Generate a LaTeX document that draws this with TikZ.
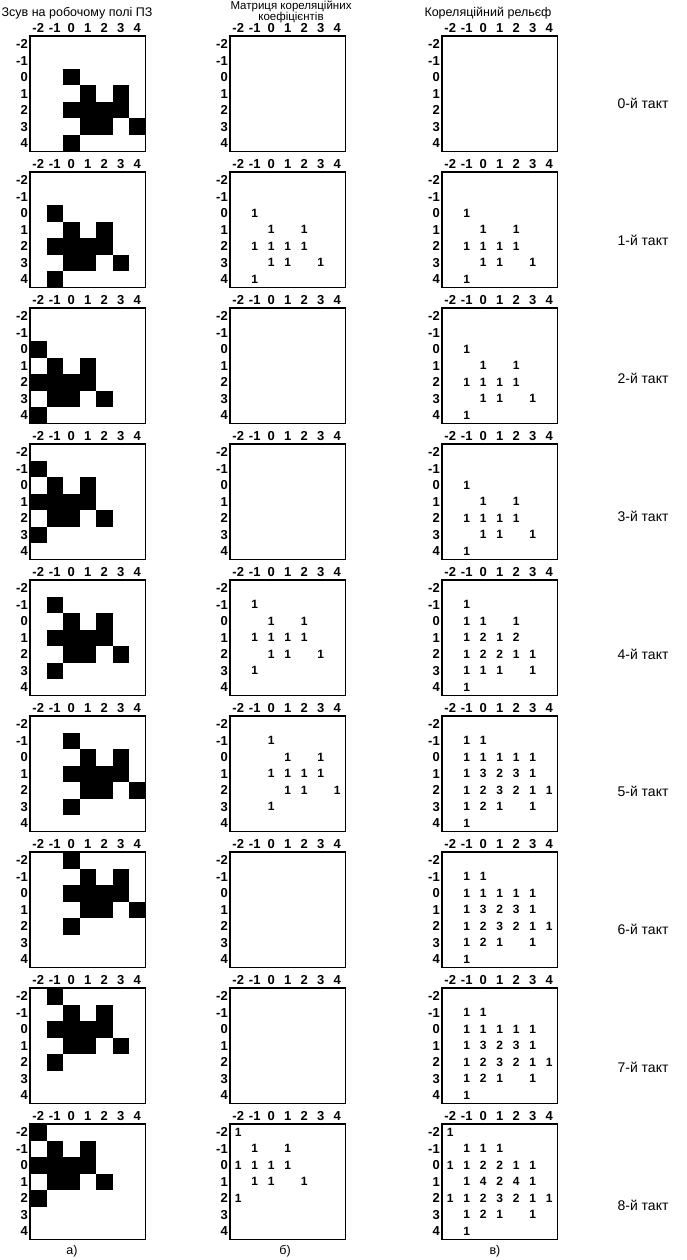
\documentclass[tikz,border=0pt]{standalone}
\usepackage{fontspec}
\setmainfont{Liberation Sans}
\usetikzlibrary{positioning}

% cells of the figure, relative to its corner
\newcommand{\shapecells}{0/0, 1/1, 3/1, 0/2, 1/2, 2/2, 3/2, 1/3, 2/3, 4/3, 0/4}

\begin{document}
\begin{tikzpicture}[
        x=1pt, y=-1pt,
        frame/.style={draw=black, line width=1.2pt},
        cell/.style={fill=black},
        tick/.style={font=\fontsize{13}{13}\selectfont\bfseries, inner sep=0pt},
        val/.style={font=\fontsize{12}{12}\selectfont\bfseries, inner sep=0pt},
        head/.style={font=\fontsize{12.5}{14}\selectfont, inner sep=0pt, align=center},
        takt/.style={font=\fontsize{14}{14}\selectfont, inner sep=0pt},
    ]
    \useasboundingbox (0,0) rectangle (686,1260);
    \def\cw{16.5}

    % Titles
    \node[head] (ta) at (77,13) {Зсув на робочому полі ПЗ};
    \node[head, font=\fontsize{11.5}{11}\selectfont] (tb) at (291,12) {Матриця кореляційних\\коефіцієнтів};
    \node[head] (tc) at (488,13) {Кореляційний рельєф};

    % Frames and scales
    \foreach \k in {0,...,8} {
        \foreach \col/\x in {a/30, b/230, c/442} {
            \draw[frame] (\x, 36+136*\k) rectangle ++(7*\cw, 7*\cw);
            \foreach \v [count=\i] in {-2,...,4} {
                \node[tick] (\col\k x\i) at (\x+\i*\cw-0.5*\cw, 28+136*\k) {\v};
                \node[tick, anchor=east] (\col\k y\i) at (\x-2, 36+136*\k+\i*\cw-0.5*\cw) {\v};
            }
        }
        \node[takt] (takt\k) at (643, 103+137.75*\k) {\k-й такт};
    }

    % Shifted figure on the working field
    \foreach \k/\dx/\dy in {0/0/0, 1/-1/0, 2/-2/0, 3/-2/-1, 4/-1/-1, 5/0/-1, 6/0/-2, 7/-1/-2, 8/-2/-2} {
        \foreach \c/\r in \shapecells {
            \fill[cell] (30+\c*\cw+\dx*\cw+2*\cw, 36+136*\k+\r*\cw+\dy*\cw+2*\cw) rectangle ++(\cw,\cw);
        }
    }

    % Correlation coefficients
    \foreach \k/\dx/\dy in {1/-1/0, 4/-1/-1, 5/0/-1, 8/-2/-2} {
        \foreach \c/\r [count=\n] in \shapecells {
            \node[val] (b\k v\n) at (230+\c*\cw+\dx*\cw+2.5*\cw, 36+136*\k+\r*\cw+\dy*\cw+2.5*\cw) {1};
        }
    }

    % Relief
    \foreach \k in {1,2,3} {
        \foreach \c/\r/\v [count=\n] in {-1/0/1, 0/1/1, 2/1/1, -1/2/1, 0/2/1, 1/2/1, 2/2/1,
                0/3/1, 1/3/1, 3/3/1, -1/4/1} {
            \node[val] (c\k v\n) at (442+\c*\cw+2.5*\cw, 36+136*\k+\r*\cw+2.5*\cw) {\v};
        }
    }
    \foreach \k in {4} {
        \foreach \c/\r/\v [count=\n] in {-1/-1/1, -1/0/1, 0/0/1, 2/0/1, -1/1/1, 0/1/2, 1/1/1, 2/1/2,
                -1/2/1, 0/2/2, 1/2/2, 2/2/1, 3/2/1, -1/3/1, 0/3/1, 1/3/1, 3/3/1, -1/4/1} {
            \node[val] (c\k v\n) at (442+\c*\cw+2.5*\cw, 36+136*\k+\r*\cw+2.5*\cw) {\v};
        }
    }
    \foreach \k in {5,6,7} {
        \foreach \c/\r/\v [count=\n] in {-1/-1/1, 0/-1/1, -1/0/1, 0/0/1, 1/0/1, 2/0/1, 3/0/1,
                -1/1/1, 0/1/3, 1/1/2, 2/1/3, 3/1/1, -1/2/1, 0/2/2, 1/2/3, 2/2/2, 3/2/1, 4/2/1,
                -1/3/1, 0/3/2, 1/3/1, 3/3/1, -1/4/1} {
            \node[val] (c\k v\n) at (442+\c*\cw+2.5*\cw, 36+136*\k+\r*\cw+2.5*\cw) {\v};
        }
    }
    \foreach \k in {8} {
        \foreach \c/\r/\v [count=\n] in {-2/-2/1, -1/-1/1, 0/-1/1, 1/-1/1, -2/0/1, -1/0/1, 0/0/2,
                1/0/2, 2/0/1, 3/0/1, -1/1/1, 0/1/4, 1/1/2, 2/1/4, 3/1/1, -2/2/1, -1/2/1, 0/2/2,
                1/2/3, 2/2/2, 3/2/1, 4/2/1, -1/3/1, 0/3/2, 1/3/1, 3/3/1, -1/4/1} {
            \node[val] (c\k v\n) at (442+\c*\cw+2.5*\cw, 36+136*\k+\r*\cw+2.5*\cw) {\v};
        }
    }

    % Captions
    \node[head] (la) at (72,1251) {а)};
    \node[head] (lb) at (285,1251) {б)};
    \node[head] (lc) at (495,1251) {в)};
\end{tikzpicture}
\end{document}
